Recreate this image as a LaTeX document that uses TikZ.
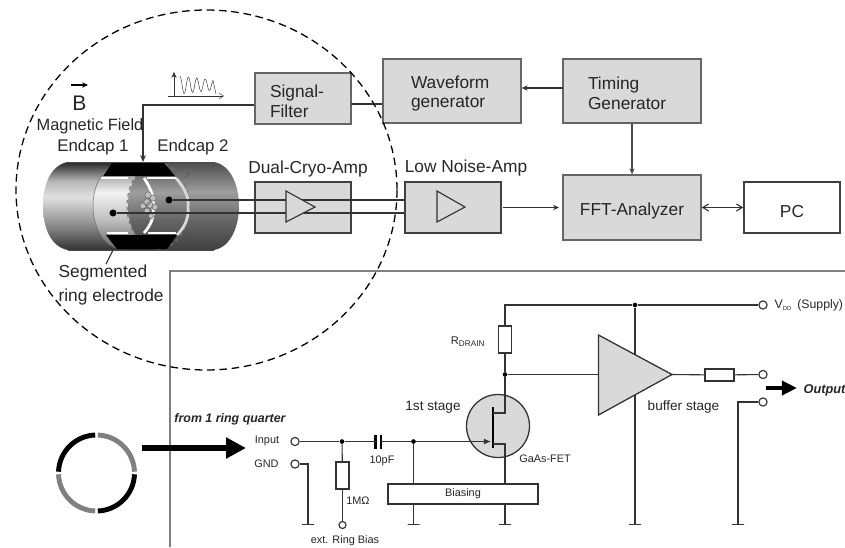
\documentclass[tikz,border=0pt]{standalone}
\usepackage{fontspec}
\setmainfont{Liberation Sans}
\usetikzlibrary{arrows.meta}
\definecolor{boxgray}{HTML}{D9D9D9}
\definecolor{inkgray}{HTML}{333333}
\pgfdeclareverticalshading{trapbody}{100bp}{color(0bp)=(black!80); color(25bp)=(black!80); color(37bp)=(black!50); color(55bp)=(black!12); color(64bp)=(black!28); color(75bp)=(black!85); color(100bp)=(black!85)}
\pgfdeclareverticalshading{trapback}{100bp}{color(0bp)=(black!75); color(25bp)=(black!75); color(42bp)=(black!60); color(58bp)=(black!38); color(75bp)=(black!70); color(100bp)=(black!70)}
\pgfdeclareverticalshading{trapwall}{100bp}{color(0bp)=(black!60); color(25bp)=(black!60); color(42bp)=(black!25); color(58bp)=(black!5); color(75bp)=(black!55); color(100bp)=(black!55)}
\begin{document}
\begin{tikzpicture}[x=0.03cm,y=-0.03cm,>={Stealth[length=5pt,width=4.5pt]},line width=0.95pt,
  every node/.style={text=black!85},
  lab/.style={font=\fontsize{14.8}{17}\selectfont,inner sep=0pt},
  smalllab/.style={font=\fontsize{9.3}{11}\selectfont,inner sep=0pt},
  midlab/.style={font=\fontsize{11.6}{14}\selectfont,inner sep=0pt},
  blockbox/.style={draw=black!60,fill=boxgray,line width=1.2pt,inner sep=0pt,lab},
  term/.style={circle,draw=inkgray,fill=white,line width=1pt,minimum size=7pt,inner sep=0pt},
  jun/.style={circle,fill=black,minimum size=4pt,inner sep=0pt},
  gndtick/.style={draw=inkgray,minimum width=0.36cm,minimum height=0pt,inner sep=0pt},
  resbox/.style={draw=inkgray,fill=white,inner sep=0pt}]
\useasboundingbox (0,0) rectangle (845,547);
% ion trap cylinder
\shade[shading=trapbody] (68,162) -- (160,162) -- (160,250) -- (68,250) .. controls (51,247) and (43,228) .. (43,206) .. controls (43,184) and (51,165) .. (68,162) -- cycle;
\shade[shading=trapback] (160,162) -- (214,162) .. controls (231,165) and (239,186) .. (239,206) .. controls (239,226) and (231,247) .. (214,250) -- (160,250) -- cycle;
\draw[black!70,thin] (68,162) -- (214,162) (68,250) -- (214,250);
\shade[shading=trapwall] (122,206) ellipse[x radius=29,y radius=43];
\draw[black!60,thin] (122,206) ellipse[x radius=29,y radius=43];
\shade[shading=trapback] (158,206) ellipse[x radius=30,y radius=43];
\draw[black!55,dashed] (158,206) ellipse[x radius=31,y radius=43];
% ring segments, black top and bottom
\fill[black] (103,176) -- (112,163) -- (164,163) -- (175,176) -- cycle;
\fill[black] (106,235) -- (117,249) -- (167,249) -- (177,235) -- cycle;
\draw[white,line width=1.6pt] (101,178) -- (128,178) (147,178) -- (176,178);
\draw[white,line width=1.6pt] (107,233) -- (128,233) (148,233) -- (176,233);
\draw[white,line width=2.4pt] (144,178) .. controls (152,190) and (154,198) .. (153,207) .. controls (154,216) and (152,224) .. (144,233);
\draw[black!15,line width=2.4pt] (176,178) .. controls (186,190) and (189,198) .. (188,207) .. controls (189,216) and (186,226) .. (177,235);
\draw[black!70,thin] (185,178) -- (190,172) (185,234) -- (190,239);
% trapped ions
\draw[black!60,fill=black!25,thin] (148,195) circle[radius=3.2] (153,198) circle[radius=3.2] (147,202) circle[radius=3.2] (150,205) circle[radius=3.2] (143,206) circle[radius=3] (155,207) circle[radius=3] (147,211) circle[radius=3] (151,216) circle[radius=2.5];
% endcap electrodes
\node[jun,minimum size=6pt] (capleft) at (113,213) {};
\node[jun,minimum size=6pt] (capright) at (169,200) {};
% upper blocks
\node[blockbox,minimum width=2.88cm,minimum height=1.53cm,text width=1.98cm,align=left] (sigfilter) at (303,98.5) {\rule{0pt}{15pt}Signal-\\Filter};
\node[blockbox,minimum width=4.14cm,minimum height=1.92cm,text width=2.46cm,align=left] (wavegen) at (452,91) {\rule{0pt}{15pt}Waveform\\generator};
\node[blockbox,minimum width=4.14cm,minimum height=1.92cm,text width=2.64cm,align=left] (timinggen) at (632,91) {\rule{0pt}{15pt}Timing\\Generator};
\node[blockbox,draw=black!75,minimum width=2.88cm,minimum height=1.53cm] (cryoamp) at (303,207.5) {};
\node[blockbox,draw=black!75,minimum width=2.88cm,minimum height=1.53cm] (lownoise) at (453,207.5) {};
\node[blockbox,minimum width=4.14cm,minimum height=1.95cm] (fft) at (632,207.5) {\rule{0pt}{17pt}FFT-Analyzer};
\node[blockbox,draw=black!75,fill=white,minimum width=2.88cm,minimum height=1.53cm] (pc) at (792,207.5) {\rule{0pt}{17pt}PC};
% labels of the upper part
\node[lab,font=\fontsize{18}{20}\selectfont] (bfield) at (79.5,103) {B};
\node[lab,font=\fontsize{14}{17}\selectfont] (magfield) at (90,126) {Magnetic Field};
\node[lab,font=\fontsize{14.4}{17}\selectfont] (endcapa) at (93,147) {Endcap 1};
\node[lab,font=\fontsize{14.4}{17}\selectfont] (endcapb) at (193,147) {Endcap 2};
\node[lab] (cryolabel) at (308,169) {Dual-Cryo-Amp};
\node[lab] (lnalabel) at (466,168) {Low Noise-Amp};
\node[lab,anchor=west,align=left] (ringlabel) at (58,285) {Segmented\\[3pt]ring electrode};
\coordinate (bvecl) at (71,85);
\coordinate (bvecr) at (88,85);
\draw[->] (bvecl) -- (bvecr);
% connectors
\coordinate (filterdrop) at (143,105);
\coordinate (trapentry) at (143,162);
\draw[inkgray,-{Stealth[open,length=6pt,width=5pt]}] (sigfilter.west |- filterdrop) -- (filterdrop) -- (trapentry);
\coordinate (wavejoin) at (351,104);
\draw[inkgray] (wavejoin) -- (wavejoin -| wavegen.west);
\coordinate (timingtap) at (563,88);
\draw[inkgray,->] (timingtap) -- (timingtap -| wavegen.east);
\draw[black!70,->] (timinggen.south) -- (fft.north);
\coordinate (lnaout) at (503,207.5);
\draw[inkgray,->] (lnaout) -- (559,207.5);
\draw[inkgray,{Straight Barb[length=5pt,width=6pt]}-{Straight Barb[length=5pt,width=6pt]}] (fft.east) -- (pc.west);
\draw[inkgray] (capright) -- (capright -| lownoise.west);
\draw[inkgray] (capleft) -- (capleft -| lownoise.west);
\draw[inkgray,fill=boxgray] (286,191) -- (315,207) -- (286,222) -- cycle;
\draw[inkgray,fill=boxgray] (437,191) -- (465,207) -- (437,222) -- cycle;
% drive waveform
\coordinate (waveorigin) at (174,96);
\coordinate (wavexend) at (224,96);
\coordinate (waveyend) at (174,72);
\draw[inkgray,thin,-{Straight Barb[length=4pt,width=5pt]}] (168,96) -- (wavexend);
\draw[inkgray,thin,->] (waveorigin) -- (waveyend);
\draw[inkgray,thin,smooth,domain=180:213,samples=70] plot (\x,{85-(9-0.12*(\x-180))*cos(360*(\x-180)/8.4)}) -- (216,94);
% label line for the ring
\coordinate (ringtip) at (113,250);
\coordinate (ringfoot) at (106,264);
\draw[inkgray] (ringtip) -- (ringfoot);
% panel of the preamplifier
\draw[black!50,line width=1.1pt] (170,547) -- (170,271) -- (845,271);
% ring quarters
\draw[black,line width=4.2pt] (96.5,473) ++(-178:38) arc[start angle=-178,end angle=-92,radius=38];
\draw[black,line width=4.2pt] (96.5,473) ++(2:38) arc[start angle=2,end angle=88,radius=38];
\draw[black!50,line width=4.2pt] (96.5,473) ++(-88:38) arc[start angle=-88,end angle=-2,radius=38];
\draw[black!50,line width=4.2pt] (96.5,473) ++(92:38) arc[start angle=92,end angle=178,radius=38];
% big arrow
\coordinate (bigstart) at (142,448);
\coordinate (bigend) at (246,448);
\draw[black,line width=5.7pt,-{Triangle[length=17pt,width=17pt]}] (bigstart) -- (bigend);
\node[inner sep=0pt,font=\fontsize{10.6}{13}\selectfont\bfseries\itshape] (fromring) at (230,419) {from 1 ring quarter};
% input side
\node[smalllab] (inputlabel) at (267,441) {Input};
\node[smalllab] (gndlabel) at (266.5,464) {GND};
\node[term] (inputterm) at (295,441.5) {};
\node[term] (gndterm) at (295,464) {};
\node[jun] (injun) at (342,441.5) {};
\node[jun] (gatejun) at (413.5,441.5) {};
\node[resbox,minimum width=0.39cm,minimum height=0.81cm] (rbias) at (342.5,475.5) {};
\node[term,minimum size=6pt] (biasterm) at (342.5,525) {};
\node[smalllab] (megalabel) at (358,501) {1MΩ};
\node[smalllab] (pflabel) at (382,461) {10pF};
\node[smalllab] (biaslabel) at (345,541) {ext. Ring Bias};
\coordinate (capa) at (375.5,441.5);
\coordinate (capb) at (381,441.5);
\draw[black,line width=1.9pt] (375.5,434.5) -- (375.5,448.5) (381,434.5) -- (381,448.5);
\draw[inkgray] (inputterm) -- (injun) -- (capa);
\draw[inkgray] (capb) -- (gatejun);
\draw[inkgray] (injun) -- (rbias);
\draw[inkgray] (rbias) -- (biasterm);
% ground ticks
\node[gndtick] (gnda) at (308,524.5) {};
\node[gndtick] (gndb) at (413.5,524.5) {};
\node[gndtick] (gndc) at (505,524.5) {};
\node[gndtick] (gndd) at (635,524.5) {};
\node[gndtick] (gnde) at (738,524.5) {};
\draw[inkgray] (gndterm) -| (gnda);
% first stage
\node[draw=inkgray,fill=white,minimum width=4.5cm,minimum height=0.6cm,inner sep=0pt,smalllab] (biasing) at (463,494) {Biasing};
\node[circle,draw=inkgray,fill=boxgray,line width=1.1pt,minimum size=1.89cm,inner sep=0pt] (fetcircle) at (498,426) {};
\node[jun] (drainjun) at (505,374.5) {};
\node[jun] (supplyjun) at (635,305) {};
\node[term] (vddterm) at (763,305) {};
\node[resbox,minimum width=0.39cm,minimum height=0.81cm] (rdrain) at (505,339.5) {};
\coordinate (fetdrain) at (493,413);
\coordinate (fetsource) at (493,444);
\coordinate (fetgate) at (491,441.5);
\draw[black,line width=2.4pt] (493,407) -- (493,448);
\draw[inkgray] (drainjun) |- (fetdrain);
\draw[inkgray] (fetsource) -| (gndc |- biasing.north);
\draw[inkgray,-{Latex[length=6pt,width=5pt]}] (gatejun) -- (fetgate);
\draw[inkgray] (gatejun) -- (gndb |- biasing.north);
\draw[inkgray] (gndb |- biasing.south) -- (gndb);
\draw[inkgray] (gndc |- biasing.south) -- (gndc);
\draw[inkgray] (drainjun) -- (rdrain);
\draw[inkgray] (rdrain) |- (supplyjun);
\draw[inkgray] (supplyjun) -- (vddterm);
\draw[inkgray] (supplyjun) -- (gndd);
% buffer
\coordinate (buffertip) at (672,374.5);
\draw[inkgray] (drainjun) -- (599,374.5);
\draw[inkgray,fill=boxgray,line width=1.1pt] (598.5,335) -- (buffertip) -- (598.5,415) -- cycle;
\node[resbox,minimum width=0.87cm,minimum height=0.36cm] (rout) at (719.5,375) {};
\node[term] (outterm) at (763,374.5) {};
\node[term] (lowterm) at (763,402) {};
\draw[inkgray] (buffertip) -- (rout);
\draw[inkgray] (rout) -- (outterm);
\draw[inkgray] (lowterm) -| (gnde);
\coordinate (outstart) at (766,388);
\coordinate (outend) at (797,388);
\draw[black,line width=4pt,-{Triangle[length=13pt,width=12pt]}] (outstart) -- (outend);
% circuit labels
\node[midlab] (firstlabel) at (433,407) {1st stage};
\node[midlab] (bufferlabel) at (683.5,407) {buffer stage};
\node[smalllab] (gaaslabel) at (545,459) {GaAs-FET};
\node[smalllab,font=\fontsize{9.5}{11}\selectfont] (draintext) at (468,342) {R\textsubscript{\fontsize{7}{8}\selectfont DRAIN}};
\node[inner sep=0pt,anchor=west,font=\fontsize{10.5}{13}\selectfont] (vddlabel) at (774,305) {V\textsubscript{\fontsize{5}{6}\selectfont DD} \,(Supply)};
\node[inner sep=0pt,anchor=west,font=\fontsize{10.9}{13}\selectfont\bfseries\itshape] (outlabel) at (803,390) {Output};
% dashed outline of the cold part
\draw[black,line width=1.1pt,dash pattern=on 6.5pt off 4pt] (206.5,190) ellipse[x radius=190.5,y radius=180];
\end{tikzpicture}
\end{document}
